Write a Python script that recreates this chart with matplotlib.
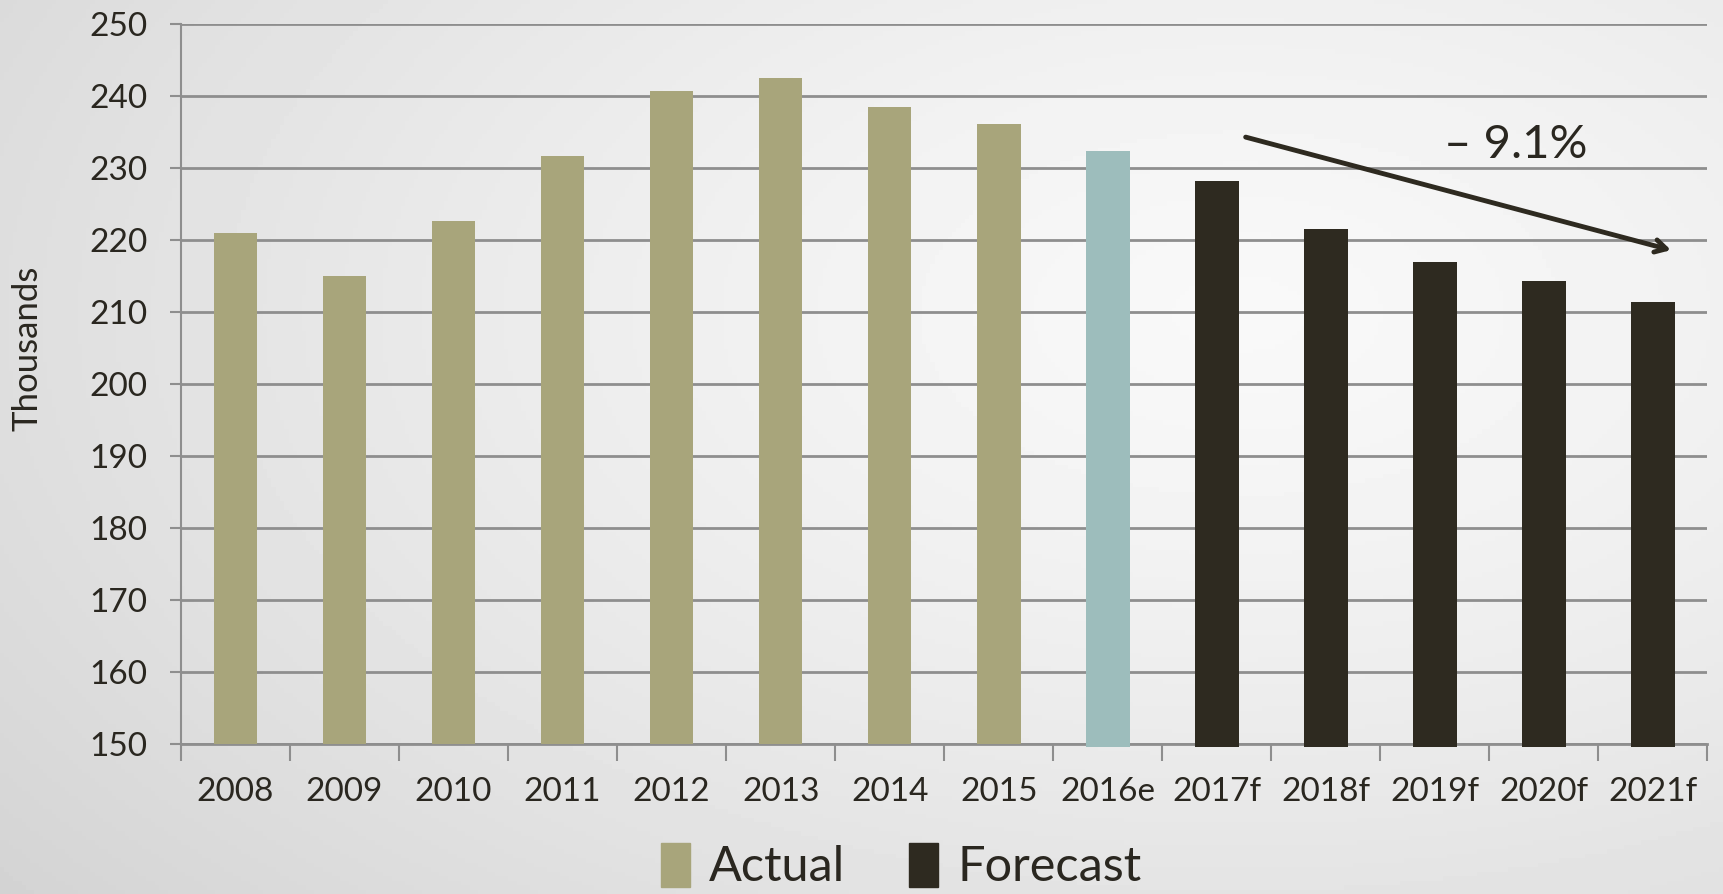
import numpy as np
from matplotlib import pyplot as plt
from matplotlib.patches import Patch

years = ['2008', '2009', '2010', '2011', '2012', '2013', '2014', '2015',
         '2016e', '2017f', '2018f', '2019f', '2020f', '2021f']
values = [221.0, 215.0, 222.7, 231.7, 240.7, 242.5, 238.5, 236.1,
          232.4, 228.2, 221.6, 217.0, 214.3, 211.4]
y_ticks = [150, 160, 170, 180, 190, 200, 210, 220, 230, 240, 250]
change_label = '\u2013 9.1%'

c_actual = '#a8a57b'
c_estimate = '#9dbdbc'
c_forecast = '#2e2a20'
c_text = '#2a2720'
c_grid = '#8e8e8e'

plt.rcParams['font.family'] = ['Lato', 'DejaVu Sans']

fig = plt.figure(figsize=(17.23, 8.94), dpi=100)

# background gradient, darker to the left and bottom
bg = fig.add_axes([0, 0, 1, 1], zorder=-10)
xx, yy = np.meshgrid(np.linspace(0, 1, 400), np.linspace(0, 1, 200))
r = np.sqrt(((xx - 0.72) / 1.0) ** 2 + ((yy - 0.35) / 1.1) ** 2)
shade = 0.975 - 0.16 * np.clip(r, 0, 1) ** 1.3
bg.imshow(shade, cmap='gray', vmin=0, vmax=1, aspect='auto', extent=(0, 1, 0, 1))
bg.axis('off')

ax = fig.add_axes([0.105, 0.168, 0.886, 0.805])
ax.set_facecolor('none')

x = np.arange(len(years))
colors = []
for y in years:
    if y.endswith('e'):
        colors.append(c_estimate)
    elif y.endswith('f'):
        colors.append(c_forecast)
    else:
        colors.append(c_actual)

for xi, v, c in zip(x, values, colors):
    base = 150 if c == c_actual else 149.55
    ax.bar(xi, v - base, bottom=base, width=0.4, color=c, zorder=3, clip_on=False)

ax.set_xlim(-0.5, len(years) - 0.5)
ax.set_ylim(150, 250)
ax.set_yticks(y_ticks)
ax.yaxis.grid(True, color=c_grid, linewidth=2.0, zorder=0)
ax.tick_params(axis='y', length=8, width=1.5, color=c_grid, labelsize=24,
               labelcolor=c_text, pad=16)

ax.set_xticks(x)
ax.set_xticklabels(years)
ax.set_xticks(np.arange(-0.5, len(years), 1), minor=True)
ax.tick_params(axis='x', which='major', length=0, labelsize=24,
               labelcolor=c_text, pad=24)
ax.tick_params(axis='x', which='minor', length=12, width=1.5, color=c_grid)

for s in ['top', 'right']:
    ax.spines[s].set_visible(False)
ax.spines['left'].set_color(c_grid)
ax.spines['left'].set_linewidth(1.5)
ax.spines['bottom'].set_color(c_grid)
ax.spines['bottom'].set_linewidth(2.0)

ax.set_ylabel('Thousands', fontsize=25, color=c_text)
ax.yaxis.set_label_coords(-0.09, 0.55)

ax.annotate('', xy=(13.19, 218.5), xytext=(9.24, 234.4),
            arrowprops=dict(arrowstyle='->,head_length=0.8,head_width=0.45',
                            color=c_forecast, lw=3.5), zorder=5)
ax.text(11.74, 233.2, change_label, fontsize=34, color=c_text,
        ha='center', va='center', zorder=5)

handles = [Patch(color=c_actual, label='Actual'), Patch(color=c_forecast, label='Forecast')]
fig.legend(handles=handles, loc='center', bbox_to_anchor=(0.523, 0.031), ncol=2,
           frameon=False, fontsize=35, handlelength=0.6, handleheight=1.0,
           handletextpad=0.4, columnspacing=1.3, labelcolor=c_text,
           borderpad=0.2)

fig.savefig('out.png', dpi=100)
